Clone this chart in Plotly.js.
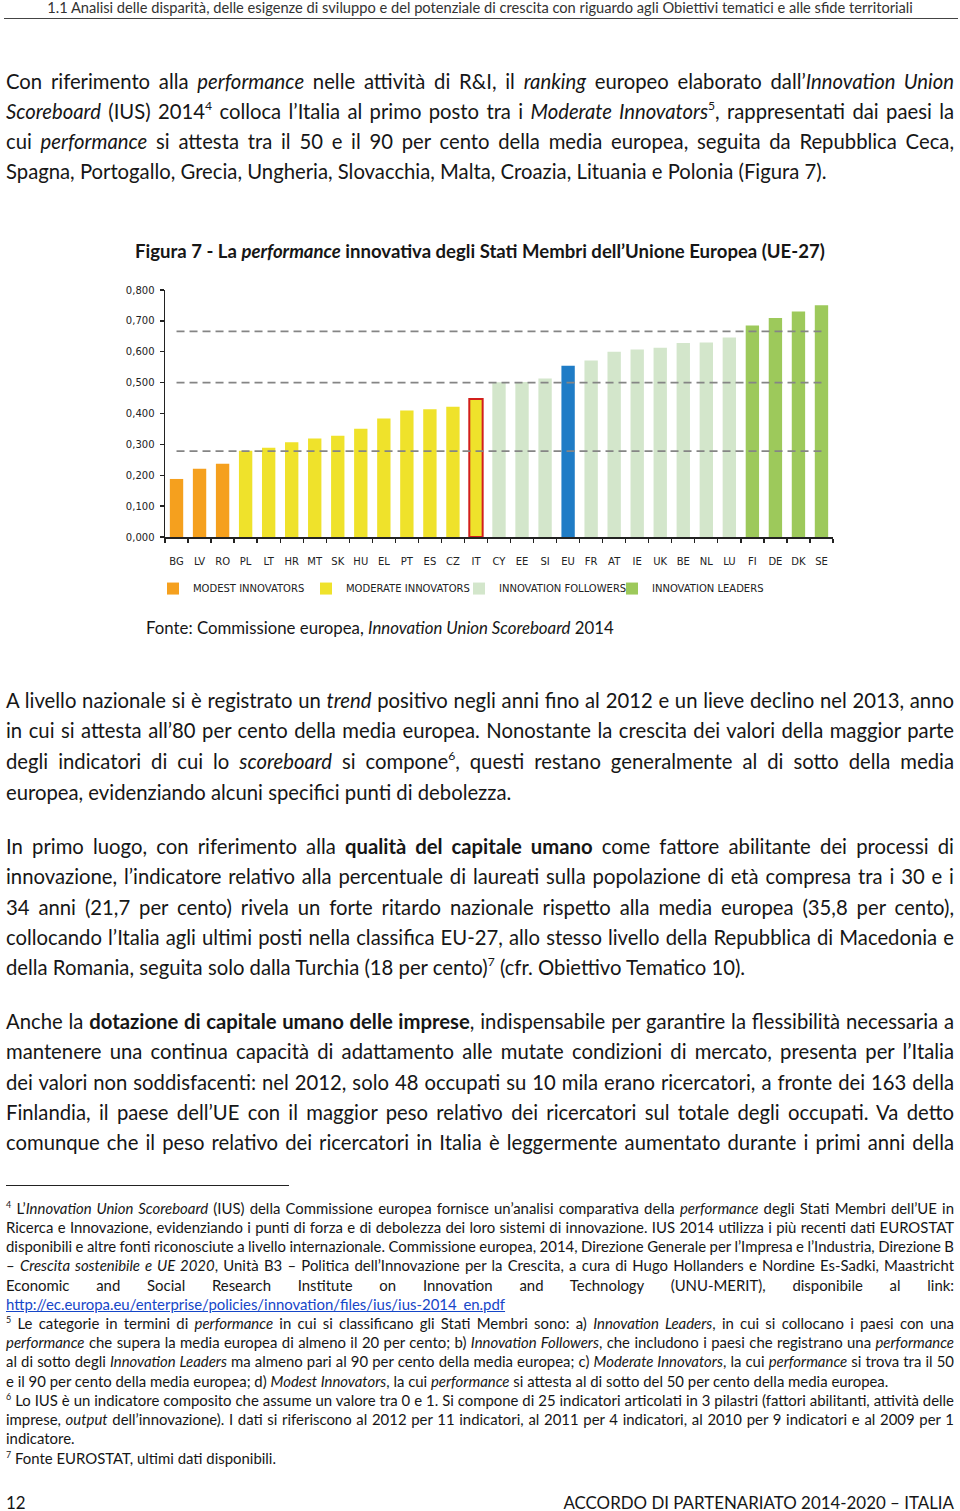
<!DOCTYPE html>
<html><head><meta charset="utf-8">
<script src="https://cdn.plot.ly/plotly-3.0.1.min.js"></script>
<style>
html,body{margin:0;padding:0;background:#fff;}
body{width:960px;height:1511px;position:relative;overflow:hidden;font-family:Lato,'Open Sans',sans-serif;color:#161616;}
.ln{position:absolute;white-space:nowrap;}
.ln span{display:inline-block;}
sup{font-size:0.6em;line-height:0;vertical-align:0.7em;}
a{color:#1646c8;text-decoration:underline;}
#hr1{position:absolute;left:4px;top:18px;width:954px;height:0;border-top:1.6px solid #444;}
#hr2{position:absolute;left:6px;top:1185px;width:283px;height:0;border-top:1.3px solid #222;}
</style></head><body>
<div id="hr1"></div>
<div id="hr2"></div>
<div id="chart" style="position:absolute;left:0;top:270px;width:960px;height:345px;"></div>
<script>
// ---------- chart data ----------
const categories = ['BG','LV','RO','PL','LT','HR','MT','SK','HU','EL','PT','ES','CZ','IT','CY','EE','SI','EU','FR','AT','IE','UK','BE','NL','LU','FI','DE','DK','SE'];
const modestCountries = ['BG','LV','RO'];
const modestValues = [0.188,0.221,0.237];
const moderateCountries = ['PL','LT','HR','MT','SK','HU','EL','PT','ES','CZ','IT'];
const moderateValues = [0.279,0.289,0.307,0.319,0.328,0.351,0.384,0.410,0.414,0.422,0.447];
const followerCountries = ['CY','EE','SI','FR','AT','IE','UK','BE','NL','LU'];
const followerValues = [0.501,0.502,0.513,0.572,0.600,0.607,0.613,0.628,0.630,0.646];
const euCountries = ['EU'];
const euValues = [0.555];
const leaderCountries = ['FI','DE','DK','SE'];
const leaderValues = [0.685,0.709,0.730,0.751];
const thresholdLevels = [0.278,0.500,0.666];
const groupNames = ['MODEST INNOVATORS','MODERATE INNOVATORS','INNOVATION FOLLOWERS','INNOVATION LEADERS'];
const highlighted = 'IT';

const traces = [
  {type:'bar',name:groupNames[0],x:modestCountries,y:modestValues,marker:{color:'#F5A01E',line:{width:0}}},
  {type:'bar',name:groupNames[1],x:moderateCountries,y:moderateValues,
   marker:{color:'#EFE22B',line:{color:'#D21F1B',width:moderateCountries.map(c=>c===highlighted?2:0)}}},
  {type:'bar',name:groupNames[2],x:followerCountries,y:followerValues,marker:{color:'#D3E6CB',line:{width:0}}},
  {type:'bar',name:groupNames[3],x:leaderCountries,y:leaderValues,marker:{color:'#9DC95B',line:{width:0}}},
  {type:'bar',name:'EU',x:euCountries,y:euValues,marker:{color:'#1F7CC6',line:{width:0}},showlegend:false}
];
thresholdLevels.forEach(v=>{
  traces.push({type:'scatter',mode:'lines',x:[categories[0],categories[categories.length-1]],y:[v,v],
    line:{color:'#858585',width:1.6,dash:'8px,5px'},showlegend:false,hoverinfo:'skip'});
});

const layout = {
  width:960,height:345,
  margin:{l:165,r:127,t:20,b:73},
  paper_bgcolor:'rgba(0,0,0,0)',plot_bgcolor:'rgba(0,0,0,0)',
  font:{family:'DejaVu Sans, sans-serif',size:10,color:'#222'},
  separators:',.',
  barmode:'overlay',bargap:0.42,
  showlegend:true,
  legend:{orientation:'h',x:-0.018,xanchor:'left',y:-0.15,yanchor:'top',font:{size:10,color:'#222'},
    itemwidth:30,entrywidth:108,traceorder:'normal',bgcolor:'rgba(0,0,0,0)'},
  xaxis:{type:'category',categoryorder:'array',categoryarray:categories,range:[-0.5,categories.length-0.5],
    showline:true,linecolor:'#222',linewidth:1.5,ticks:'outside',tickson:'boundaries',ticklen:4,tickcolor:'#222',tickwidth:1.3,
    showgrid:false,zeroline:false,tickangle:0,tickfont:{size:10,color:'#222'},ticklabelstandoff:14},
  yaxis:{range:[0,0.8],tick0:0,dtick:0.1,tickformat:'.3f',showline:true,linecolor:'#222',linewidth:1.5,
    ticks:'outside',ticklen:4,tickcolor:'#222',tickwidth:1.3,showgrid:false,zeroline:false,
    tickfont:{size:10,color:'#222'},ticklabelstandoff:3}
};
Plotly.newPlot('chart',traces,layout,{staticPlot:true,displayModeBar:false});

// ---------- page text ----------
const paras = [
 {y:[81,111,141,171],lines:[
  'Con riferimento alla <i>performance</i> nelle attività di R&amp;I, il <i>ranking</i> europeo elaborato dall’<i>Innovation Union</i>',
  '<i>Scoreboard</i> (IUS) 2014<sup>4</sup> colloca l’Italia al primo posto tra i <i>Moderate Innovators</i><sup>5</sup>, rappresentati dai paesi la',
  'cui <i>performance</i> si attesta tra il 50 e il 90 per cento della media europea, seguita da Repubblica Ceca,',
  'Spagna, Portogallo, Grecia, Ungheria, Slovacchia, Malta, Croazia, Lituania e Polonia (Figura 7).'],justLast:false},
 {y:[700,730,761,792],lines:[
  'A livello nazionale si è registrato un <i>trend</i> positivo negli anni fino al 2012 e un lieve declino nel 2013, anno',
  'in cui si attesta all’80 per cento della media europea. Nonostante la crescita dei valori della maggior parte',
  'degli indicatori di cui lo <i>scoreboard</i> si compone<sup>6</sup>, questi restano generalmente al di sotto della media',
  'europea, evidenziando alcuni specifici punti di debolezza.'],justLast:false},
 {y:[846,876,907,937,967],lines:[
  'In primo luogo, con riferimento alla <b>qualità del capitale umano</b> come fattore abilitante dei processi di',
  'innovazione, l’indicatore relativo alla percentuale di laureati sulla popolazione di età compresa tra i 30 e i',
  '34 anni (21,7 per cento) rivela un forte ritardo nazionale rispetto alla media europea (35,8 per cento),',
  'collocando l’Italia agli ultimi posti nella classifica EU-27, allo stesso livello della Repubblica di Macedonia e',
  'della Romania, seguita solo dalla Turchia (18 per cento)<sup>7</sup> (cfr. Obiettivo Tematico 10).'],justLast:false},
 {y:[1021,1051,1082,1112,1142],lines:[
  'Anche la <b>dotazione di capitale umano delle imprese</b>, indispensabile per garantire la flessibilità necessaria a',
  'mantenere una continua capacità di adattamento alle mutate condizioni di mercato, presenta per l’Italia',
  'dei valori non soddisfacenti: nel 2012, solo 48 occupati su 10 mila erano ricercatori, a fronte dei 163 della',
  'Finlandia, il paese dell’UE con il maggior peso relativo dei ricercatori sul totale degli occupati. Va detto',
  'comunque che il peso relativo dei ricercatori in Italia è leggermente aumentato durante i primi anni della'],justLast:true}
];
const foot = [
 ['<sup>4</sup> L’<i>Innovation Union Scoreboard</i> (IUS) della Commissione europea fornisce un’analisi comparativa della <i>performance</i> degli Stati Membri dell’UE in',true],
 ['Ricerca e Innovazione, evidenziando i punti di forza e di debolezza dei loro sistemi di innovazione. IUS 2014 utilizza i più recenti dati EUROSTAT',true],
 ['disponibili e altre fonti riconosciute a livello internazionale. Commissione europea, 2014, Direzione Generale per l’Impresa e l’Industria, Direzione B',true],
 ['– <i>Crescita sostenibile e UE 2020</i>, Unità B3 – Politica dell’Innovazione per la Crescita, a cura di Hugo Hollanders e Nordine Es-Sadki, Maastricht',true],
 ['Economic and Social Research Institute on Innovation and Technology (UNU-MERIT), disponibile al link:',true],
 ['<a>http://ec.europa.eu/enterprise/policies/innovation/files/ius/ius-2014_en.pdf</a>',false],
 ['<sup>5</sup> Le categorie in termini di <i>performance</i> in cui si classificano gli Stati Membri sono: a) <i>Innovation Leaders</i>, in cui si collocano i paesi con una',true],
 ['<i>performance</i> che supera la media europea di almeno il 20 per cento; b) <i>Innovation Followers</i>, che includono i paesi che registrano una <i>performance</i>',true],
 ['al di sotto degli <i>Innovation Leaders</i> ma almeno pari al 90 per cento della media europea; c) <i>Moderate Innovators</i>, la cui <i>performance</i> si trova tra il 50',true],
 ['e il 90 per cento della media europea; d) <i>Modest Innovators</i>, la cui <i>performance</i> si attesta al di sotto del 50 per cento della media europea.',false],
 ['<sup>6</sup> Lo IUS è un indicatore composito che assume un valore tra 0 e 1. Si compone di 25 indicatori articolati in 3 pilastri (fattori abilitanti, attività delle',true],
 ['imprese, <i>output</i> dell’innovazione). I dati si riferiscono al 2012 per 11 indicatori, al 2011 per 4 indicatori, al 2010 per 9 indicatori e al 2009 per 1',true],
 ['indicatore.',false],
 ['<sup>7</sup> Fonte EUROSTAT, ultimi dati disponibili.',false]
];
const footY = [1208,1227,1246,1265,1285,1304,1323,1342,1361,1381,1400,1419,1438,1458];

function mk(html, cls){
  const d=document.createElement('div'); d.className='ln'+(cls?' '+cls:'');
  d.innerHTML='<span>'+html+'</span>'; document.body.appendChild(d); return d;
}
function natW(d){ return d.firstChild.getBoundingClientRect().width; }
function calib(html, target, weight){
  const d=mk(html); d.style.fontSize='100px'; if(weight) d.style.fontWeight=weight;
  const w=natW(d); d.remove(); return 100*target/w;
}
function place(d, fs, y, off){
  d.style.fontSize=fs+'px'; d.style.lineHeight=(1.2*fs)+'px';
  d.style.top=(y-0.734*fs+(off===undefined?3:off))+'px';
}
function justify(d, left, width){
  d.style.left=left+'px';
  const n=(d.textContent.match(/ /g)||[]).length;
  const w=natW(d);
  if(n>0) d.style.wordSpacing=((width-w)/n)+'px';
}

const bodyFs = calib(paras[0].lines[3], 821);
paras.forEach(p=>{
  p.lines.forEach((t,i)=>{
    const d=mk(t); place(d, bodyFs, p.y[i]);
    const last = i===p.lines.length-1;
    if(!last || p.justLast) justify(d,6,948); else d.style.left='6px';
  });
});
const footFs = calib(foot[9][0], 883);
foot.forEach((f,i)=>{
  const d=mk(f[0]); place(d, footFs, footY[i]);
  if(f[1]) justify(d,6,948); else d.style.left='6px';
});

// header
const hdrTxt='1.1 Analisi delle disparità, delle esigenze di sviluppo e del potenziale di crescita con riguardo agli Obiettivi tematici e alle sfide territoriali';
const hFs=calib(hdrTxt,867);
const hd=mk(hdrTxt); place(hd,hFs,8,2); hd.style.color='#333'; hd.style.left=(480-natW(hd)/2)+'px';

// figure title
const ttl='Figura 7 - La <i>performance</i> innovativa degli Stati Membri dell’Unione Europea (UE-27)';
const tFs=calib(ttl,690,'700');
const td=mk(ttl); td.style.fontWeight='700'; place(td,tFs,251); td.style.left='135px';

// source
const src='Fonte: Commissione europea, <i>Innovation Union Scoreboard</i> 2014';
const sFs=calib(src,468);
const sd=mk(src); place(sd,sFs,627); sd.style.left='146px';

// footer
const ftr='ACCORDO DI PARTENARIATO 2014-2020 – ITALIA';
const fFs=calib(ftr,391);
const fd=mk(ftr); place(fd,fFs,1502); fd.style.left=(954-natW(fd))+'px';
const pn=mk('12'); place(pn,fFs,1502); pn.style.left='6px';
</script>
</body></html>
